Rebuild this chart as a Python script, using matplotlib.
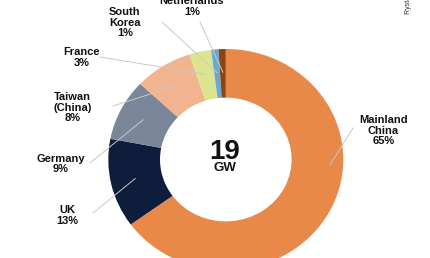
"""Donut chart: installed capacity share by country/region."""
import matplotlib.pyplot as plt

# Данные
COUNTRIES = ["Mainland\nChina", "UK", "Germany", "Taiwan\n(China)", "France",
             "South\nKorea", "Netherlands"]
SHARES = [65, 13, 9, 8, 3, 1, 1]
TOTAL_GW = 19
SOURCE = "Rystad Energy"

COLORS = ["#E8894A", "#0E1D3B", "#7A8699", "#F2B48E", "#DDE48F", "#6AAAD0", "#8A4515"]

# Размеры картинки и кольца в пикселях (кольцо слегка растянуто по горизонтали)
W, H = 430, 258
CX, CY = 225.8, 159.5
RX, RY = 117.5, 110.5
RING_WIDTH = 0.44

# Положение подписей и начала выносных линий (пиксели)
LABEL_POS = [(383.3, 130.6), (67.3, 215.2), (61, 163.9), (72.3, 107.6),
             (81.7, 57.5), (125, 22.7), (191.7, 6.3)]
LINE_START = [(353, 128), (93, 213), (90, 163), (113, 106),
              (100, 57), (162, 22), (200, 22)]


def px(x, y):
    """Пиксели -> координаты осей (центр кольца в нуле, радиус 1)."""
    return (x - CX) / RX, (CY - y) / RY


fig = plt.figure(figsize=(W / 100, H / 100), dpi=100)
ax = fig.add_axes([0, 0, 1, 1])
wedges, _ = ax.pie(
    SHARES, colors=COLORS, startangle=90, counterclock=False, radius=1,
    wedgeprops=dict(width=RING_WIDTH, linewidth=0),
)
ax.set_aspect("auto")
ax.set_xlim(px(0, 0)[0], px(W, 0)[0])
ax.set_ylim(px(0, H)[1], px(0, 0)[1])
ax.axis("off")

font = dict(family=["Liberation Sans", "DejaVu Sans"], weight="bold", color="#111111")

for i, (name, share, wedge) in enumerate(zip(COUNTRIES, SHARES, wedges)):
    x, y = px(*LABEL_POS[i])
    ax.text(x, y, f"{name}\n{share}%", ha="center", va="center", fontsize=8,
            linespacing=1.08, **font)
    if i == 0:
        ang, r = -3, 0.89
    else:
        ang, r = (wedge.theta1 + wedge.theta2) / 2, 0.79
    import math
    ex, ey = r * math.cos(math.radians(ang)), r * math.sin(math.radians(ang))
    sx, sy = px(*LINE_START[i])
    ax.plot([sx, ex], [sy, ey], color="#c8c8c8", lw=0.7, zorder=3)

ax.text(*px(CX - 1, 152), str(TOTAL_GW), ha="center", va="center", fontsize=20, **font)
ax.text(*px(CX - 1, 168), "GW", ha="center", va="center", fontsize=9.5, **font)

ax.text(*px(409, 14), SOURCE, rotation=90, ha="center", va="bottom", fontsize=5,
        family=["Liberation Sans", "DejaVu Sans"], color="#333333")

fig.savefig("out.png", dpi=100)
